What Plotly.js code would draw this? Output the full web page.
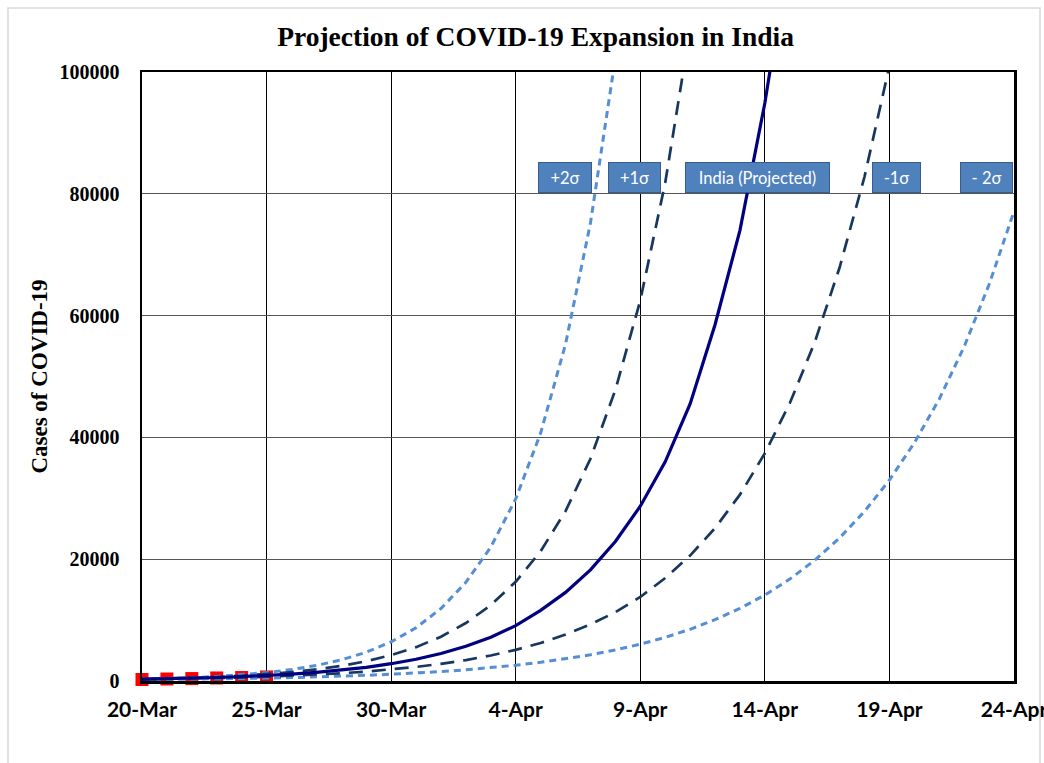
<!DOCTYPE html>
<html>
<head>
<meta charset="utf-8">
<script src="https://cdn.plot.ly/plotly-3.0.1.min.js"></script>
<style>html,body{margin:0;padding:0;background:#fff;}#chart{width:1044px;height:763px;}</style>
</head>
<body>
<div id="chart"></div>
<script>
// Daily dates, 20-Mar to 24-Apr 2020
const dates = [
  '2020-03-20','2020-03-21','2020-03-22','2020-03-23','2020-03-24','2020-03-25',
  '2020-03-26','2020-03-27','2020-03-28','2020-03-29','2020-03-30','2020-03-31',
  '2020-04-01','2020-04-02','2020-04-03','2020-04-04','2020-04-05','2020-04-06',
  '2020-04-07','2020-04-08','2020-04-09','2020-04-10','2020-04-11','2020-04-12',
  '2020-04-13','2020-04-14','2020-04-15','2020-04-16','2020-04-17','2020-04-18',
  '2020-04-19','2020-04-20','2020-04-21','2020-04-22','2020-04-23','2020-04-24'
];

// Actual reported cases (red squares), 20-Mar .. 25-Mar
const actual = [250, 330, 400, 500, 570, 660];

// India (Projected)
const projected = [295, 368, 460, 575, 720, 900, 1130, 1420, 1790, 2250, 2840, 3580,
  4520, 5700, 7200, 9100, 11600, 14550, 18250, 22900, 28700, 36000, 45500, 58500,
  74000, 94900, 120500];

// +1 sigma
const plus1 = [289, 378, 495, 648, 848, 1110, 1450, 1900, 2480, 3250, 4250, 5560,
  7280, 9520, 12460, 16300, 21300, 27900, 36500, 47800, 62500, 81800, 107000];

// +2 sigma
const plus2 = [297, 404, 549, 747, 1016, 1380, 1880, 2555, 3470, 4725, 6430, 8740,
  11900, 16200, 22000, 29900, 40700, 55300, 75200, 102300];

// -1 sigma
const minus1 = [259, 316, 386, 471, 574, 700, 855, 1040, 1270, 1550, 1890, 2310,
  2820, 3440, 4190, 5120, 6240, 7620, 9290, 11300, 13800, 16900, 20600, 25100,
  30600, 37400, 45600, 55600, 67900, 82800, 101000];

// -2 sigma
const minus2 = [203, 240, 285, 337, 400, 474, 561, 665, 788, 934, 1110, 1310,
  1555, 1840, 2180, 2590, 3065, 3630, 4300, 5100, 6040, 7160, 8490, 10060,
  11920, 14120, 16730, 19830, 23500, 27850, 33000, 39100, 46300, 54900, 65100, 77100];

const tickDates = ['2020-03-20','2020-03-25','2020-03-30','2020-04-04','2020-04-09','2020-04-14','2020-04-19','2020-04-24'];
const tickLabels = ['20-Mar','25-Mar','30-Mar','4-Apr','9-Apr','14-Apr','19-Apr','24-Apr'];
const yTicks = [0, 20000, 40000, 60000, 80000, 100000];
const yTickLabels = ['0', '20000', '40000', '60000', '80000', '100000'];

const boxLabels = ['+2σ', '+1σ', 'India (Projected)', '-1σ', '- 2σ'];

const traces = [
  {x: dates.slice(0, actual.length), y: actual, mode: 'markers', name: 'India (Actual)',
   cliponaxis: false,
   marker: {symbol: 'square', size: 13, color: '#FF0000'}},
  {x: dates.slice(0, plus2.length), y: plus2, mode: 'lines', name: '+2σ',
   line: {color: '#558ED5', width: 3, dash: '7px,5px'}},
  {x: dates.slice(0, minus2.length), y: minus2, mode: 'lines', name: '-2σ',
   line: {color: '#558ED5', width: 3, dash: '7px,5px'}},
  {x: dates.slice(0, plus1.length), y: plus1, mode: 'lines', name: '+1σ',
   line: {color: '#17375E', width: 2.7, dash: '14px,9px'}},
  {x: dates.slice(0, minus1.length), y: minus1, mode: 'lines', name: '-1σ',
   line: {color: '#17375E', width: 2.7, dash: '14px,9px'}},
  {x: dates.slice(0, projected.length), y: projected, mode: 'lines', name: 'India (Projected)',
   line: {color: '#000080', width: 3.2}}
];

// Label boxes (paper coordinates)
const boxX = [565, 634.5, 757.5, 896.5, 986.5];
const boxW = [54, 53, 145, 49, 53];
const annotations = boxLabels.map((t, i) => ({
  text: t, xref: 'paper', yref: 'paper',
  x: (boxX[i] - 142) / 872, y: (681 - 177.5) / 609,
  xanchor: 'center', yanchor: 'middle', showarrow: false,
  width: boxW[i] - 2, height: 29, borderpad: 0,
  bgcolor: '#4F81BD', bordercolor: '#385D8A', borderwidth: 1,
  font: {family: 'Lato, sans-serif', size: 16.5, color: '#FFFFFF'}
}));

const layout = {
  width: 1044, height: 763,
  margin: {l: 142, r: 30, t: 72, b: 82},
  paper_bgcolor: '#FFFFFF', plot_bgcolor: '#FFFFFF',
  showlegend: false,
  title: {text: 'Projection of COVID-19 Expansion in India', x: 0.513, xanchor: 'center', y: 0.952, yanchor: 'middle',
    font: {family: '"Liberation Serif", "Times New Roman", serif', size: 27.5, color: '#000', weight: 'bold'}},
  xaxis: {
    type: 'date', range: ['2020-03-20', '2020-04-24'],
    tickmode: 'array', tickvals: tickDates, ticktext: tickLabels,
    showgrid: true, gridcolor: '#000000', gridwidth: 1,
    showline: true, linecolor: '#000000', linewidth: 2.5, mirror: true,
    ticks: '', zeroline: false, ticklabelstandoff: 8, ticklabeloverflow: 'allow',
    tickfont: {family: 'Lato, sans-serif', size: 21, color: '#000', weight: 'bold'}
  },
  yaxis: {
    range: [0, 100000], tickmode: 'array', tickvals: yTicks, ticktext: yTickLabels,
    showgrid: true, gridcolor: '#555555', gridwidth: 1.3,
    showline: true, linecolor: '#000000', linewidth: 2.5, mirror: true,
    ticks: '', zeroline: false, ticklabelstandoff: 16,
    tickfont: {family: '"Liberation Serif", "Times New Roman", serif', size: 20, color: '#000', weight: 'bold'},
    title: {text: 'Cases of COVID-19', standoff: 6,
      font: {family: '"Liberation Serif", "Times New Roman", serif', size: 23, color: '#000', weight: 'bold'}}
  },
  annotations: annotations,
  shapes: [{type: 'rect', xref: 'paper', yref: 'paper',
    x0: (8 - 142) / 872, x1: (1040 - 142) / 872, y0: -0.3, y1: (681 - 8) / 609,
    line: {color: '#D9D9D9', width: 1.5}, layer: 'below'}]
};

Plotly.newPlot('chart', traces, layout, {displayModeBar: false, staticPlot: true});
</script>
</body>
</html>
